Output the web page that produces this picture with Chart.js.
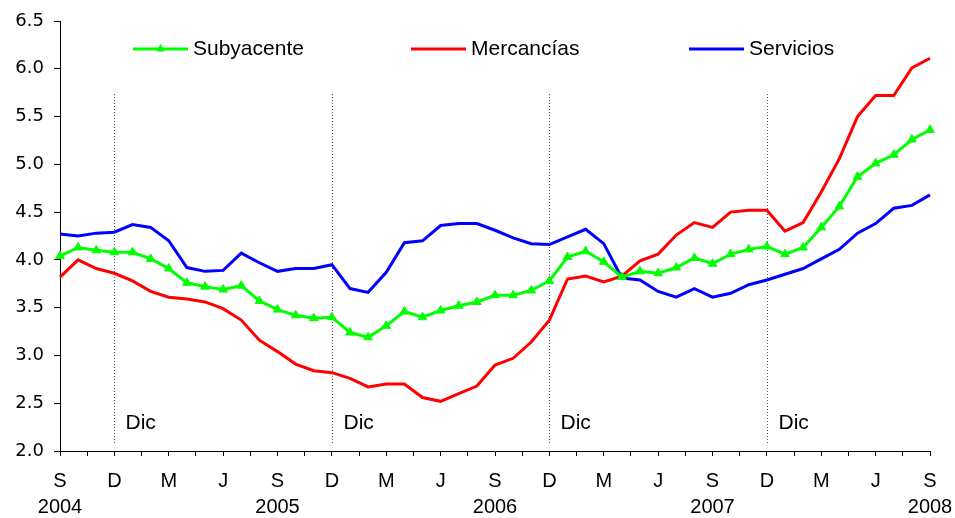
<!DOCTYPE html>
<html>
<head>
<meta charset="utf-8">
<script src="https://cdn.jsdelivr.net/npm/chart.js@4.4.1/dist/chart.umd.min.js"></script>
<style>
  body { margin: 0; background: #fff; }
</style>
</head>
<body>
<canvas id="chart" width="955" height="518"></canvas>
<script>
// monthly series, Sep 2004 .. Sep 2008 (49 months)
const subyacente = [
  4.04, 4.13, 4.10, 4.08, 4.08, 4.01, 3.91, 3.76, 3.72, 3.69, 3.73,
  3.57, 3.48, 3.42, 3.39, 3.40, 3.24, 3.19, 3.31, 3.46, 3.40,
  3.47, 3.52, 3.56, 3.63, 3.63, 3.68, 3.78, 4.03, 4.09, 3.98,
  3.82, 3.88, 3.86, 3.92, 4.02, 3.96, 4.06, 4.11, 4.14, 4.06,
  4.13, 4.34, 4.56, 4.87, 5.01, 5.10, 5.26, 5.36
];
const mercancias = [
  3.82, 4.00, 3.91, 3.86, 3.78, 3.67, 3.61, 3.59, 3.56, 3.49, 3.37,
  3.16, 3.04, 2.91, 2.84, 2.82, 2.76, 2.67, 2.70, 2.70, 2.56,
  2.52, 2.60, 2.68, 2.90, 2.97, 3.14, 3.37, 3.80, 3.83, 3.77,
  3.83, 3.99, 4.06, 4.26, 4.39, 4.34, 4.50, 4.52, 4.52, 4.30,
  4.39, 4.71, 5.06, 5.50, 5.72, 5.72, 6.01, 6.11
];
const servicios = [
  4.27, 4.25, 4.28, 4.29, 4.37, 4.34, 4.20, 3.92, 3.88, 3.89, 4.07,
  3.97, 3.88, 3.91, 3.91, 3.95, 3.70, 3.66, 3.87, 4.18, 4.20,
  4.36, 4.38, 4.38, 4.31, 4.23, 4.17, 4.16, 4.24, 4.32, 4.17,
  3.81, 3.79, 3.67, 3.61, 3.70, 3.61, 3.65, 3.74, 3.79, 3.85,
  3.91, 4.01, 4.11, 4.28, 4.38, 4.54, 4.57, 4.68
];

// one label every 3 months
const tickLabels = ['S', 'D', 'M', 'J', 'S', 'D', 'M', 'J', 'S', 'D', 'M', 'J', 'S', 'D', 'M', 'J', 'S'];
const yearLabels = ['2004', '', '', '', '2005', '', '', '', '2006', '', '', '', '2007', '', '', '', '2008'];
const dicMonths = [3, 15, 27, 39];
const dicLabel = 'Dic';

const FONT = '"Liberation Sans", Arial, sans-serif';

const toPoints = arr => arr.map((v, i) => ({ x: i, y: v }));

const decemberLines = {
  id: 'decemberLines',
  beforeDatasetsDraw(chart) {
    const { ctx, chartArea, scales: { x } } = chart;
    ctx.save();
    ctx.strokeStyle = '#555';
    ctx.lineWidth = 1;
    ctx.setLineDash([1, 2]);
    ctx.font = '21px ' + FONT;
    ctx.fillStyle = '#000';
    ctx.textBaseline = 'middle';
    dicMonths.forEach(m => {
      const px = Math.round(x.getPixelForValue(m)) + 0.5;
      ctx.beginPath();
      ctx.moveTo(px, chartArea.top + 73);
      ctx.lineTo(px, chartArea.bottom - 8);
      ctx.stroke();
      ctx.fillText(dicLabel, px + 11, chartArea.bottom - 28);
    });
    ctx.restore();
  }
};

const lineLegend = {
  id: 'lineLegend',
  afterDraw(chart) {
    const { ctx, chartArea } = chart;
    const y = 49;
    ctx.save();
    ctx.font = '21px ' + FONT;
    ctx.textBaseline = 'middle';
    chart.data.datasets.forEach((ds, i) => {
      const x0 = chartArea.left + 73 + i * 278;
      ctx.strokeStyle = ds.borderColor;
      ctx.lineWidth = 3;
      ctx.beginPath();
      ctx.moveTo(x0, y);
      ctx.lineTo(x0 + 55, y);
      ctx.stroke();
      if (ds.pointRadius > 0) {
        const r = ds.pointRadius, cx = x0 + 27.5;
        ctx.fillStyle = ds.borderColor;
        ctx.beginPath();
        ctx.moveTo(cx, y - r);
        ctx.lineTo(cx + r * Math.sin(2 * Math.PI / 3), y - r * Math.cos(2 * Math.PI / 3));
        ctx.lineTo(cx + r * Math.sin(4 * Math.PI / 3), y - r * Math.cos(4 * Math.PI / 3));
        ctx.closePath();
        ctx.fill();
      }
      ctx.fillStyle = '#000';
      ctx.fillText(ds.label, x0 + 60, y);
    });
    ctx.restore();
  }
};

new Chart(document.getElementById('chart'), {
  type: 'line',
  data: {
    datasets: [
      {
        label: 'Subyacente',
        data: toPoints(subyacente),
        borderColor: '#00FF00',
        backgroundColor: '#00FF00',
        borderWidth: 3,
        pointStyle: 'triangle',
        pointRadius: 5,
        pointBorderWidth: 1,
        tension: 0,
        clip: false
      },
      {
        label: 'Mercancías',
        data: toPoints(mercancias),
        borderColor: '#FF0000',
        borderWidth: 3,
        pointRadius: 0,
        tension: 0,
        clip: false
      },
      {
        label: 'Servicios',
        data: toPoints(servicios),
        borderColor: '#0000FF',
        borderWidth: 3,
        pointRadius: 0,
        tension: 0,
        clip: false
      }
    ]
  },
  options: {
    responsive: false,
    animation: false,
    layout: { padding: { top: 21, right: 25, bottom: 0, left: 0 } },
    plugins: {
      legend: { display: false },
      tooltip: { enabled: false }
    },
    scales: {
      x: {
        type: 'linear',
        min: 0,
        max: 48,
        ticks: {
          stepSize: 1.5,
          autoSkip: false,
          maxRotation: 0,
          color: '#000',
          padding: 12,
          font: { family: FONT, size: 20, lineHeight: 1.3 },
          callback: value => {
            const k = value / 3;
            if (!Number.isInteger(k)) return '';
            return yearLabels[k] ? [tickLabels[k], yearLabels[k]] : tickLabels[k];
          }
        },
        grid: { drawOnChartArea: false, tickLength: 5, color: '#000' },
        border: { color: '#000' },
        afterFit: scale => {
          scale.height = 67;
          scale.paddingLeft = 0;
          scale.paddingRight = 0;
        }
      },
      y: {
        min: 2,
        max: 6.5,
        ticks: {
          stepSize: 0.5,
          color: '#000',
          padding: 10,
          font: { family: '"DejaVu Sans", sans-serif', size: 18 },
          callback: value => value.toFixed(1)
        },
        grid: { drawOnChartArea: false, tickLength: 6, color: '#000' },
        border: { color: '#000' },
        afterFit: scale => { scale.width = 60; }
      }
    }
  },
  plugins: [decemberLines, lineLegend]
});
</script>
</body>
</html>
